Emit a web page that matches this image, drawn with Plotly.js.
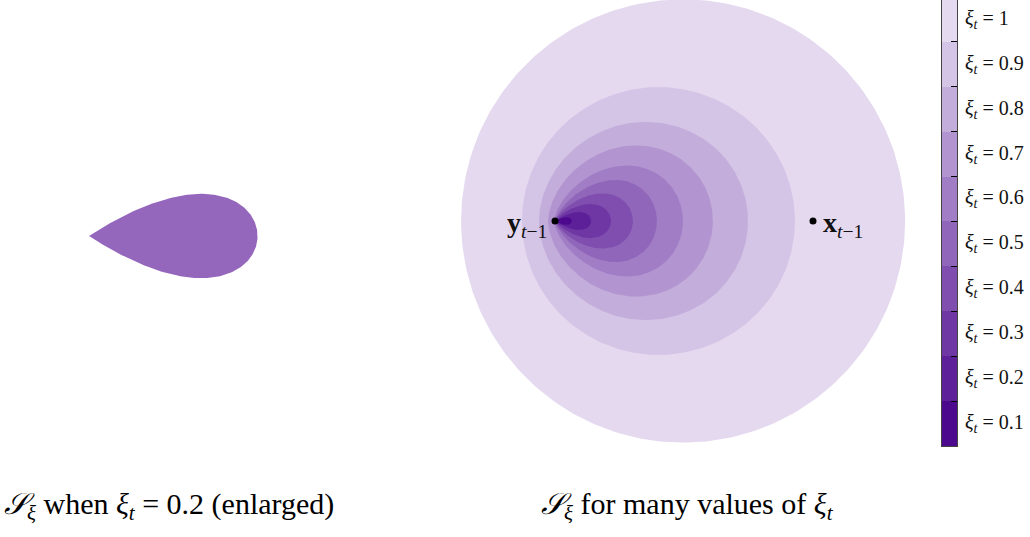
<!DOCTYPE html>
<html>
<head>
<meta charset="utf-8">
<script src="https://cdn.plot.ly/plotly-3.0.1.min.js"></script>
<style>html,body{margin:0;padding:0;background:#fff;}#chart{width:1030px;height:537px;}</style>
</head>
<body>
<div id="chart"></div>
<script>
// ---- data (units: distance from y_{t-1} to x_{t-1} = 1) ----
const xiLevels   = [1, 0.9, 0.8, 0.7, 0.6, 0.5, 0.4, 0.3, 0.2, 0.1];
const xiLabels   = ["1", "0.9", "0.8", "0.7", "0.6", "0.5", "0.4", "0.3", "0.2", "0.1"];
const leftEdge   = [-0.364, -0.128, -0.062, -0.027, -0.004, 0, 0, 0, 0, 0];
const rightEdge  = [1.357, 0.930, 0.748, 0.612, 0.496, 0.395, 0.302, 0.217, 0.140, 0.066];
const halfHeight = [0.859, 0.519, 0.384, 0.293, 0.215, 0.159, 0.107, 0.066, 0.035, 0.0145];
const cuspPower  = [0, 0, 0.05, 0.15, 0.3, 0.45, 0.55, 0.7, 1, 1];
const levelColors = ["#e5d9f0", "#d4c4e6", "#c3addb", "#b295d0", "#a17dc5", "#9066ba",
                     "#7f4eaf", "#6e37a4", "#5d2099", "#4c098e"];
const pointNames = ["y", "x"];
const pointX = [0, 1];
const pointY = [0, 0];
const enlargedXi = 0.2;
const enlargedColor = "#9467bd";

// outline of one set S_xi from its read extents
function outline(L, R, H, m) {
  const n = 300, xs = [], ys = [], raw = [];
  let maxN = 0;
  for (let i = 0; i <= n; i++) {
    const t = 2 * Math.PI * i / n;
    const xn = -Math.cos(t);
    const yn = Math.sin(t) * Math.pow(Math.abs(Math.sin(t / 2)), m);
    raw.push([xn, yn]);
    maxN = Math.max(maxN, Math.abs(yn));
  }
  raw.forEach(([xn, yn]) => {
    xs.push(L + (xn + 1) / 2 * (R - L));
    ys.push(yn / maxN * H);
  });
  return {x: xs, y: ys};
}

const traces = [];
// right panel: nested sets
xiLevels.forEach((xi, i) => {
  const o = outline(leftEdge[i], rightEdge[i], halfHeight[i], cuspPower[i]);
  traces.push({type: "scatter", mode: "lines", x: o.x, y: o.y, fill: "toself",
    fillcolor: levelColors[i], line: {width: 0, color: levelColors[i]},
    xaxis: "x2", yaxis: "y2", hoverinfo: "skip"});
});
traces.push({type: "scatter", mode: "markers", x: pointX, y: pointY,
  marker: {color: "black", size: 7}, xaxis: "x2", yaxis: "y2", hoverinfo: "skip"});

// left panel: the xi = 0.2 set, enlarged
const k = xiLevels.indexOf(enlargedXi);
const oe = outline(leftEdge[k], rightEdge[k], halfHeight[k], cuspPower[k]);
traces.push({type: "scatter", mode: "lines", x: oe.x, y: oe.y, fill: "toself",
  fillcolor: enlargedColor, line: {width: 0, color: enlargedColor},
  xaxis: "x", yaxis: "y", hoverinfo: "skip"});

// colour bar as stacked bar
const cbOrder = xiLevels.slice().reverse();
cbOrder.forEach((xi) => {
  const i = xiLevels.indexOf(xi);
  traces.push({type: "bar", x: [0], y: [1], width: [1], marker: {color: levelColors[i], line: {width: 0}},
    xaxis: "x3", yaxis: "y3", hoverinfo: "skip"});
});

const W = 1030, Hh = 537;
const px = v => v / W;
const py = v => 1 - v / Hh;
const hidden = {visible: false, showgrid: false, zeroline: false};

const serif = "Liberation Serif, serif";
const annotations = [];
// colour-bar labels
cbOrder.forEach((xi, j) => {
  const i = xiLevels.indexOf(xi);
  annotations.push({xref: "paper", yref: "y3", x: px(963), y: j + 0.5, xanchor: "left", yanchor: "middle",
    showarrow: false, text: "<i>ξ</i><sub><i>t</i></sub> = " + xiLabels[i],
    font: {family: serif, size: 20, color: "#111"}});
});
// point labels
annotations.push({xref: "x2", yref: "y2", x: pointX[0], y: pointY[0], xanchor: "right", yanchor: "middle",
  xshift: -6, yshift: -3, showarrow: false,
  text: "<b>" + pointNames[0] + "</b><sub><i>t</i>−1</sub>", font: {family: serif, size: 28, color: "#111"}});
annotations.push({xref: "x2", yref: "y2", x: pointX[1], y: pointY[1], xanchor: "left", yanchor: "middle",
  xshift: 8, yshift: -3, showarrow: false,
  text: "<b>" + pointNames[1] + "</b><sub><i>t</i>−1</sub>", font: {family: serif, size: 28, color: "#111"}});
// captions
annotations.push({xref: "paper", yref: "paper", x: px(2), y: py(506), xanchor: "left", yanchor: "middle",
  showarrow: false, text: "<i>𝒮</i><sub><i>ξ</i></sub> when <i>ξ</i><sub><i>t</i></sub> = 0.2 (enlarged)",
  font: {family: serif, size: 30, color: "#000"}});
annotations.push({xref: "paper", yref: "paper", x: px(539), y: py(506), xanchor: "left", yanchor: "middle",
  showarrow: false, text: "<i>𝒮</i><sub><i>ξ</i></sub> for many values of <i>ξ</i><sub><i>t</i></sub>",
  font: {family: serif, size: 30, color: "#000"}});

const layout = {
  width: W, height: Hh, margin: {l: 0, r: 0, t: 0, b: 0},
  paper_bgcolor: "#fff", plot_bgcolor: "rgba(0,0,0,0)", showlegend: false, barmode: "stack", bargap: 0,
  xaxis: Object.assign({domain: [0, px(440)], range: [-89 / 1204, (440 - 89) / 1204]}, hidden),
  yaxis: Object.assign({domain: [py(450), 1], range: [(236 - 450) / 1204, 236 / 1204]}, hidden),
  xaxis2: Object.assign({domain: [px(455), px(915)], range: [(455 - 555) / 258, (915 - 555) / 258]}, hidden),
  yaxis2: Object.assign({domain: [py(450), 1], range: [(221 - 450) / 258, 221 / 258]}, hidden),
  xaxis3: {anchor: "y3", domain: [px(942), px(957)], range: [-0.5, 0.5], showgrid: false, zeroline: false,
    showticklabels: false, ticks: "", showline: true, mirror: true, linecolor: "#444", linewidth: 1, fixedrange: true},
  yaxis3: {anchor: "x3", domain: [py(446), 1], range: [0, 9.93], side: "right", showgrid: false, zeroline: false,
    showticklabels: false, ticks: "inside", ticklen: 6, tickwidth: 1, tickcolor: "#000",
    tickvals: [0, 1, 2, 3, 4, 5, 6, 7, 8, 9], showline: true, mirror: true, linecolor: "#444", linewidth: 1, fixedrange: true},
  annotations: annotations
};

Plotly.newPlot("chart", traces, layout, {staticPlot: true, displayModeBar: false});
</script>
</body>
</html>
